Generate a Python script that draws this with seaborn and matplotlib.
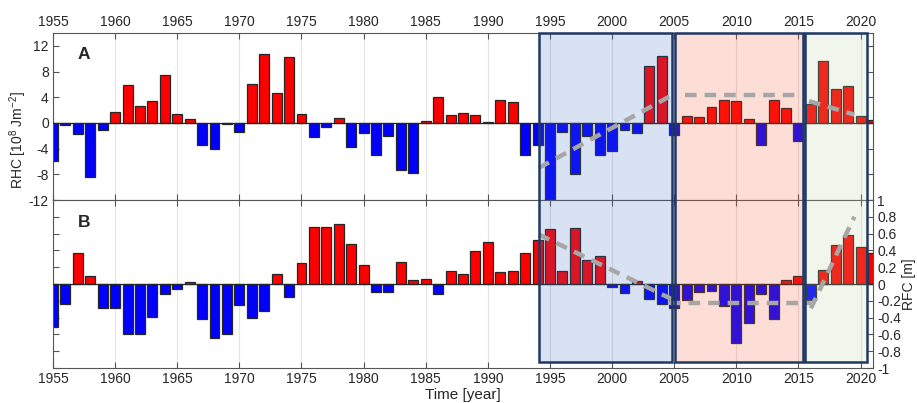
import numpy as np
import pandas as pd
import matplotlib
matplotlib.use("Agg")
import matplotlib.pyplot as plt
import seaborn as sns
from matplotlib.patches import Rectangle
from matplotlib.lines import Line2D
from matplotlib.transforms import blended_transform_factory
from matplotlib.ticker import FuncFormatter

# ---------------- data ----------------
years = list(range(1955, 2022))
rhc = [-6.0, -0.4, -1.65, -8.4, -1.15, 1.76, 5.9, 2.6, 3.47, 7.5,
       1.35, 0.62, -3.5, -4.1, -0.2, -1.4, 6.05, 10.7, 4.6, 10.3,
       1.45, -2.2, -0.6, 0.78, -3.8, -1.6, -5.0, -2.07, -7.35, -7.8,
       0.3, 4.03, 1.2, 1.6, 1.2, 0.1, 3.5, 3.26, -5.07, -3.5,
       -12.0, -1.4, -7.9, -1.97, -5.07, -4.3, -1.03, -1.55, 8.85, 10.35,
       -1.86, 1.14, 0.93, 2.48, 3.57, 3.47, 0.67, -3.36, 3.5, 2.28,
       -2.8, 2.95, 9.6, 5.33, 5.74, 1.14, 0.47]
rfc = [-0.51, -0.24, 0.37, 0.10, -0.29, -0.29, -0.60, -0.60, -0.39, -0.12,
       -0.06, 0.02, -0.42, -0.64, -0.59, -0.25, -0.41, -0.32, 0.12, -0.16,
       0.25, 0.68, 0.68, 0.71, 0.48, 0.23, -0.10, -0.10, 0.26, 0.05,
       0.06, -0.12, 0.15, 0.12, 0.39, 0.50, 0.14, 0.15, 0.37, 0.52,
       0.66, 0.16, 0.67, 0.28, 0.33, -0.04, -0.11, 0.03, -0.18, -0.24,
       -0.28, -0.19, -0.09, -0.08, -0.26, -0.70, -0.47, -0.12, -0.42, 0.05,
       0.09, -0.19, 0.17, 0.46, 0.58, 0.44, 0.37]

# periods (start, end) in years
periods = [(1994.1, 2004.85), (2005.05, 2015.4), (2015.55, 2020.5)]
period_colors = ["#416ec3", "#f55a32", "#b4d2a0"]

# trend segments
trend_a = [([1994.1, 2004.9], [-7.0, 4.4]),
           ([2005.9, 2015.3], [4.3, 4.3]),
           ([2015.85, 2019.5], [3.4, 1.3])]
trend_b = [([1994.1, 2004.8], [0.59, -0.18]),
           ([2004.6, 2016.0], [-0.23, -0.23]),
           ([2016.0, 2019.5], [-0.29, 0.8])]

xticks = list(range(1955, 2025, 5))
rhc_ticks = [-12, -8, -4, 0, 4, 8, 12]
rfc_ticks = [-1, -0.8, -0.6, -0.4, -0.2, 0, 0.2, 0.4, 0.6, 0.8, 1]

# ---------------- style ----------------
sns.set_style("white")
plt.rcParams["font.family"] = ["Liberation Sans", "DejaVu Sans"]
plt.rcParams["axes.unicode_minus"] = False
plt.rcParams["mathtext.fontset"] = "custom"
plt.rcParams["mathtext.rm"] = "Liberation Sans"
plt.rcParams["mathtext.it"] = "Liberation Sans:italic"
plt.rcParams["mathtext.default"] = "regular"

W, H = 917, 403
fig = plt.figure(figsize=(W / 100, H / 100), dpi=100)
axA = fig.add_axes([53 / W, 1 - 200 / H, 820 / W, 167 / H])
axB = fig.add_axes([53 / W, 1 - 368 / H, 820 / W, 168 / H])

RED, BLUE = "#ff0000", "#0000ff"
pal = {"pos": RED, "neg": BLUE}

dfA = pd.DataFrame({"year": years, "val": rhc})
dfA["sign"] = np.where(dfA["val"] >= 0, "pos", "neg")
dfB = pd.DataFrame({"year": years, "val": rfc})
dfB["sign"] = np.where(dfB["val"] >= 0, "pos", "neg")

for ax, df in ((axA, dfA), (axB, dfB)):
    sns.barplot(data=df, x="year", y="val", hue="sign", palette=pal,
                native_scale=True, dodge=False, width=0.8, errorbar=None,
                saturation=1, edgecolor="#262626", linewidth=0.9,
                legend=False, ax=ax, zorder=2)
    ax.axhline(0, color="#262626", lw=0.9, zorder=3)
    ax.set_xlim(1955, 2021)
    ax.set_xticks(xticks)
    ax.grid(axis="x", color="#e3e3e3", lw=0.8, zorder=0)
    ax.grid(axis="y", visible=False)
    ax.set_axisbelow(True)
    ax.set_xlabel("")
    ax.set_ylabel("")
    for s in ax.spines.values():
        s.set_color("#555555")
        s.set_linewidth(0.8)
    ax.tick_params(direction="in", length=4, width=0.8, color="#555555",
                   labelsize=10, labelcolor="#262626",
                   top=True, bottom=True, left=True, right=True)

# Panel A
axA.set_ylim(-12, 14)
axA.set_yticks(rhc_ticks)
axA.tick_params(labeltop=True, labelbottom=False, labelleft=True,
                labelright=False, pad=3)
axA.text(0.03, 0.845, "A", transform=axA.transAxes, fontsize=12.5,
         fontweight="bold", ha="left", va="baseline")

# Panel B
axB.set_ylim(-1, 1)
axB.set_yticks(rfc_ticks)
axB.yaxis.set_major_formatter(FuncFormatter(lambda v, p: f"{v:g}"))
axB.tick_params(labeltop=False, labelbottom=True, labelleft=False,
                labelright=True, pad=3)
axB.text(0.03, 0.84, "B", transform=axB.transAxes, fontsize=12.5,
         fontweight="bold", ha="left", va="baseline")

fig.text(18 / W, 1 - 140 / H, r"RHC [10$^8$ Jm$^{-2}$]", rotation=90,
         ha="center", va="center", fontsize=10, color="#262626")
fig.text(909 / W, 1 - 284 / H, "RFC [m]", rotation=90,
         ha="center", va="center", fontsize=10, color="#262626")
fig.text(463 / W, 1 - 395 / H, "Time [year]", ha="center", va="center",
         fontsize=11, color="#262626")

# period boxes spanning both panels
trans = blended_transform_factory(axA.transData, fig.transFigure)
y0, y1 = 1 - 362 / H, 1 - 33 / H
for (xs, xe), c in zip(periods, period_colors):
    fig.add_artist(Rectangle((xs, y0), xe - xs, y1 - y0, transform=trans,
                             facecolor=c, alpha=0.2, edgecolor="none",
                             zorder=5))
    fig.add_artist(Rectangle((xs, y0), xe - xs, y1 - y0, transform=trans,
                             facecolor="none", edgecolor="#1f3864",
                             lw=1.8, zorder=7))

for ax, segs in ((axA, trend_a), (axB, trend_b)):
    for xs, ys in segs:
        ln = Line2D(xs, ys, transform=ax.transData, color="#a6a6a6",
                    lw=3.2, dashes=(2.6, 1.8), solid_capstyle="butt",
                    dash_capstyle="butt", zorder=6)
        fig.add_artist(ln)

fig.savefig("out.png", dpi=100)
